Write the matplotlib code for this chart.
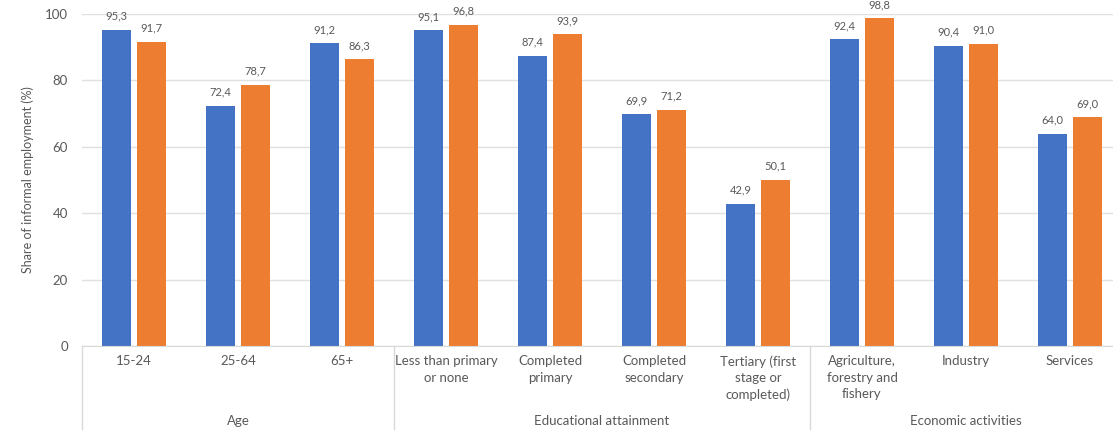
import matplotlib
matplotlib.use("Agg")
import matplotlib.pyplot as plt
from matplotlib.transforms import blended_transform_factory
from matplotlib.lines import Line2D
import numpy as np

categories = ["15-24", "25-64", "65+", "Less than primary\nor none", "Completed\nprimary",
              "Completed\nsecondary", "Tertiary (first\nstage or\ncompleted)",
              "Agriculture,\nforestry and\nfishery", "Industry", "Services"]
series_blue = [95.3, 72.4, 91.2, 95.1, 87.4, 69.9, 42.9, 92.4, 90.4, 64.0]
series_orange = [91.7, 78.7, 86.3, 96.8, 93.9, 71.2, 50.1, 98.8, 91.0, 69.0]
groups = ["Age", "Educational attainment", "Economic activities"]
group_sizes = [3, 4, 3]
yticks = [0, 20, 40, 60, 80, 100]

W, H = 1113, 430
fig = plt.figure(figsize=(W / 100, H / 100), dpi=100)
plt.rcParams['font.family'] = ['Lato', 'DejaVu Sans']
left_px, right_px = 82, 1122
y0_px, y100_px = 346, 14
ax = fig.add_axes([left_px / W, (H - y0_px) / H, (right_px - left_px) / W, (y0_px - y100_px) / H])

blue = "#4472C4"
orange = "#ED7D31"
txt = "#595959"
x = np.arange(len(categories))
bw = 0.28
off = 0.17
ax.bar(x - off, series_blue, bw, color=blue, zorder=3)
ax.bar(x + off, series_orange, bw, color=orange, zorder=3)
for xi, v in zip(x - off, series_blue):
    ax.text(xi, v + 2.4, f"{v:.1f}".replace(".", ","), ha="center", va="bottom", fontsize=8, color=txt)
for xi, v in zip(x + off, series_orange):
    ax.text(xi, v + 2.4, f"{v:.1f}".replace(".", ","), ha="center", va="bottom", fontsize=8, color=txt)

ax.set_xlim(-0.5, len(categories) - 0.5)
ax.set_ylim(0, 100)
ax.set_yticks(yticks)
ax.set_yticklabels([str(t) for t in yticks], fontsize=9.5, color=txt)
ax.tick_params(axis="y", length=0, pad=10)
ax.set_xticks([])
ax.grid(axis="y", color="#E0E0E0", linewidth=1, zorder=0)
for s in ["top", "right", "left"]:
    ax.spines[s].set_visible(False)
ax.spines["bottom"].set_color("#D9D9D9")
ax.spines["bottom"].set_zorder(4)
ax.set_ylabel("Share of informal employment (%)", fontsize=9, color=txt, labelpad=8)

tr = blended_transform_factory(ax.transData, fig.transFigure)
for xi, lab in zip(x, categories):
    ax.text(xi, 1 - 355 / H, lab, transform=tr, ha="center", va="top", fontsize=9.5,
            color=txt, linespacing=1.45, clip_on=False)

start = 0
bounds = [-0.5]
for g, n in zip(groups, group_sizes):
    center = start + (n - 1) / 2
    ax.text(center, 1 - 421 / H, g, transform=tr, ha="center", va="center", fontsize=9.5,
            color=txt, clip_on=False)
    start += n
    bounds.append(start - 0.5)
for b in bounds:
    fig.add_artist(Line2D([b, b], [1 - y0_px / H, 0], transform=tr, color="#D9D9D9", linewidth=1))

fig.savefig("out.png", dpi=100)
